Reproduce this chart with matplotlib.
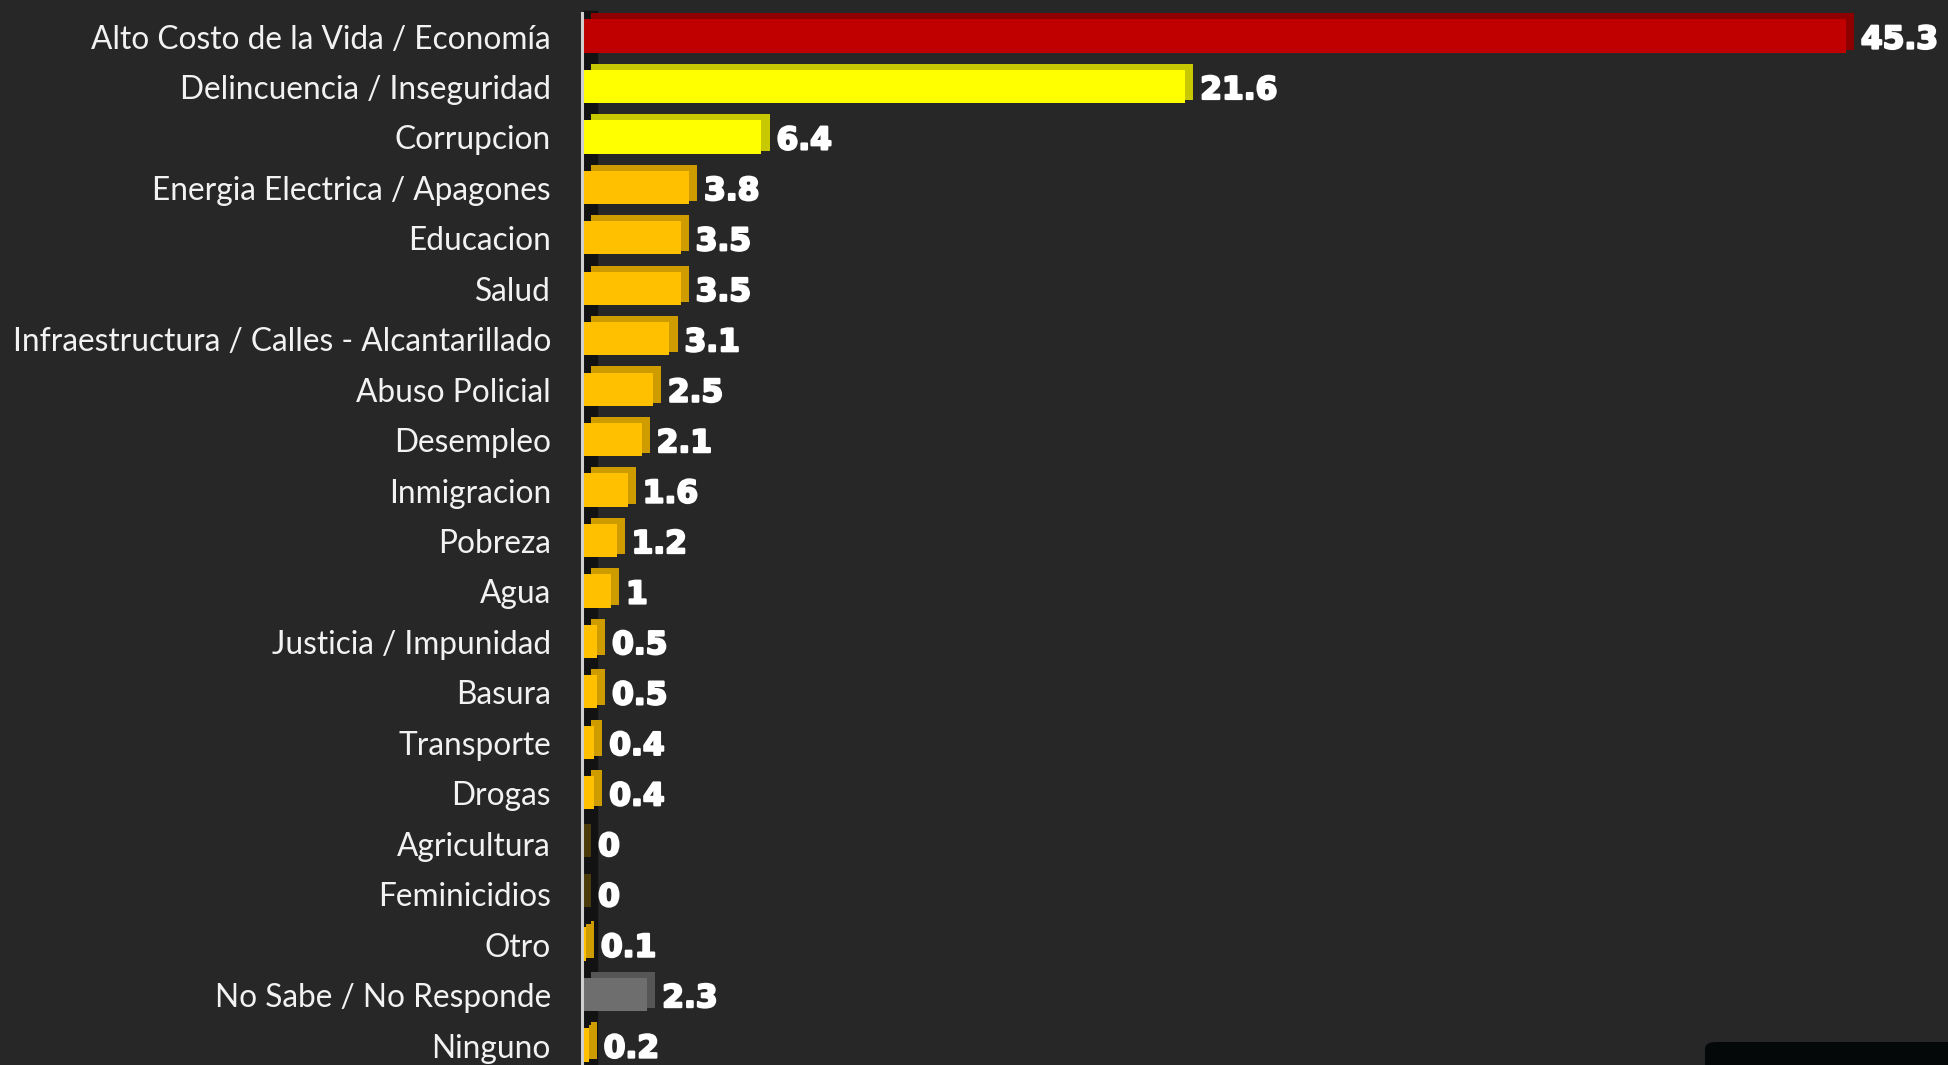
import matplotlib.pyplot as plt
import matplotlib.patheffects as pe
from matplotlib.patches import FancyBboxPatch
from matplotlib.transforms import blended_transform_factory

categorias = ["Alto Costo de la Vida / Economía", "Delincuencia / Inseguridad", "Corrupcion",
              "Energia Electrica / Apagones", "Educacion", "Salud",
              "Infraestructura / Calles - Alcantarillado", "Abuso Policial", "Desempleo",
              "Inmigracion", "Pobreza", "Agua", "Justicia / Impunidad", "Basura",
              "Transporte", "Drogas", "Agricultura", "Feminicidios", "Otro",
              "No Sabe / No Responde", "Ninguno"]
valores = [45.3, 21.6, 6.4, 3.8, 3.5, 3.5, 3.1, 2.5, 2.1, 1.6, 1.2, 1, 0.5, 0.5,
           0.4, 0.4, 0, 0, 0.1, 2.3, 0.2]
etiquetas = ["45.3", "21.6", "6.4", "3.8", "3.5", "3.5", "3.1", "2.5", "2.1", "1.6",
             "1.2", "1", "0.5", "0.5", "0.4", "0.4", "0", "0", "0.1", "2.3", "0.2"]

# front colour / depth colour
colores = ["#C00000", "#FFFF00", "#FFFF00"] + ["#FFC000"] * 16 + ["#6E6E6E", "#FFC000"]
sombras = ["#8E0000", "#C8C800", "#C8C800"] + ["#CF9C00"] * 16 + ["#565656", "#CF9C00"]

fondo = "#272727"
fig = plt.figure(figsize=(19.49, 10.65), dpi=100, facecolor=fondo)
ax = fig.add_axes([580 / 1949, 0, 1 - 580 / 1949, 1])
ax.set_facecolor(fondo)

n = len(categorias)
alto = 0.66
dx = 0.29   # depth to the right (data units)
dy = 0.12   # depth upwards (rows)

# dark "wall" strip behind the bars
ax.axvspan(0, 0.5, ymin=0, ymax=0.99, color="#121212", zorder=1)

grueso = [pe.withStroke(linewidth=1.6, foreground="white")]
for i, v in enumerate(valores):
    sc = sombras[i] if v > 0 else "#4A3A0A"
    ax.barh(i - dy, v, left=dx, height=alto, color=sc, zorder=2)
    ax.barh(i - dy / 2, dx, left=v, height=alto, color=sc, zorder=2)
    ax.barh(i, v, height=alto, color=colores[i], zorder=3)
    ax.text(v + dx + 0.25, i + 0.08, etiquetas[i], color="white", fontsize=22.5,
            fontweight="heavy", va="center", ha="left", zorder=4, path_effects=grueso)

ax.axvline(-0.04, ymin=0, ymax=0.988, color="#D0D0D0", lw=2.2, zorder=4)

# category labels
trans = blended_transform_factory(fig.transFigure, ax.transData)
for i, c in enumerate(categorias):
    fig.text(551 / 1949, i + 0.07, c, transform=trans, fontsize=22.8, color="#F2F2F2",
             family=["Lato", "DejaVu Sans"], ha="right", va="center")

ax.set_yticks([])
ax.set_xticks([])
for s in ax.spines.values():
    s.set_visible(False)

ax.set_xlim(-0.11, 49.0)
ax.set_ylim((1065 - 36) / 50.45, -36 / 50.45)

# dark box in the bottom right corner
caja = FancyBboxPatch((1705 / 1949, -0.05), 0.2, (1065 - 1042) / 1065 + 0.05,
                      boxstyle="round,pad=0,rounding_size=0.006",
                      transform=fig.transFigure, facecolor="#040808",
                      edgecolor="none", zorder=5)
fig.patches.append(caja)

fig.savefig("out.png", dpi=100, facecolor=fondo)
